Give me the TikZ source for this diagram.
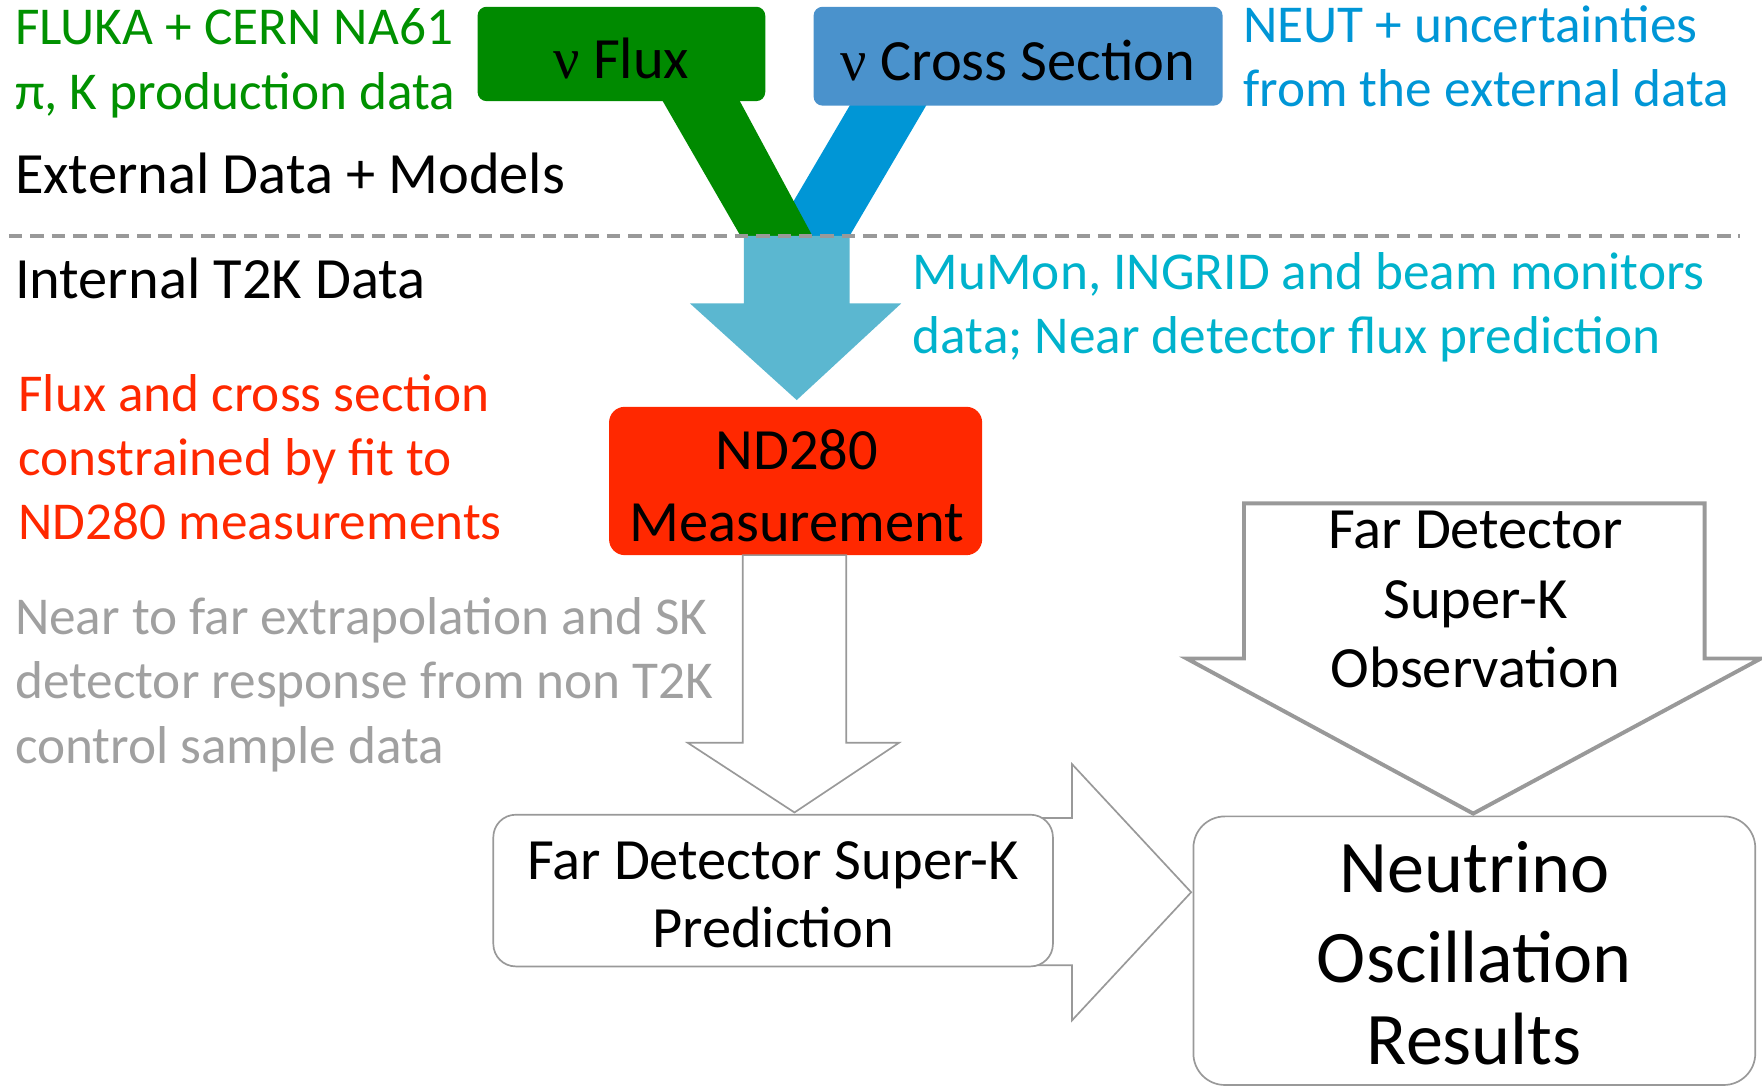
\documentclass[tikz,border=0pt]{standalone}
\usepackage{fontspec}
\setmainfont{Carlito}
\newfontfamily\nufont{Liberation Serif}
\definecolor{fgreen}{RGB}{0,138,0}
\definecolor{tgreen}{RGB}{0,145,0}
\definecolor{xblue}{RGB}{74,146,204}
\definecolor{bandblue}{RGB}{0,150,214}
\definecolor{neutblue}{RGB}{0,150,214}
\definecolor{arrowblue}{RGB}{91,183,208}
\definecolor{mucyan}{RGB}{0,178,204}
\definecolor{ndred}{RGB}{255,40,0}
\definecolor{ggray}{RGB}{160,160,160}
\definecolor{lgray}{RGB}{153,153,153}
\begin{document}
\begin{tikzpicture}[x=0.5pt,y=-0.5pt,
  ann/.style={inner sep=0pt,anchor=base west,font=\fontsize{23.7}{28}\selectfont},
  hd/.style={inner sep=0pt,anchor=base west,font=\fontsize{26}{31}\selectfont},
  bt/.style={inner sep=0pt,anchor=base,font=\fontsize{26}{31}\selectfont},
  bigt/.style={inner sep=0pt,anchor=base,font=\fontsize{33}{40}\selectfont},
  solidbox/.style={inner sep=0pt,draw=none},
  outline/.style={draw=lgray,line width=0.75pt,fill=white,line join=miter},
]
\useasboundingbox (0,0) rectangle (1568,966);
\clip (0,0) rectangle (1568,966);

% bands from the top boxes
\fill[bandblue] (762,84) -- (830,84) -- (756,210) -- (688,210) -- cycle;
\fill[fgreen] (584,80) -- (653,80) -- (723,210) -- (659,210) -- cycle;

% top boxes
\node[solidbox,fill=fgreen,rounded corners=4pt,minimum width=128pt,minimum height=42pt] (flux) at (553,48) {};
\node[bt] (fluxt) at (553,70) {{\nufont ν} Flux};
\node[solidbox,fill=xblue,rounded corners=4pt,minimum width=182pt,minimum height=44pt] (xsec) at (906,50) {};
\node[bt] (xsect) at (906,72) {{\nufont ν} Cross Section};

% light blue arrow
\fill[arrowblue] (662,210) -- (756,210) -- (756,270) -- (802,270) -- (709,356) -- (614,270) -- (662,270) -- cycle;

% dashed separator
\draw[lgray,line width=1.8pt,dash pattern=on 6pt off 3.5pt] (8,210) coordinate (sepL) -- (1548,210) coordinate (sepR);

% annotations
\node[ann,text=tgreen] (fluka1) at (13,40) {FLUKA + CERN NA61};
\node[ann,text=tgreen] (fluka2) at (13,97) {π, K production data};
\node[ann,text=neutblue] (neut1) at (1106,38) {NEUT + uncertainties};
\node[ann,text=neutblue] (neut2) at (1106,95) {from the external data};
\node[hd] (ext) at (13,172) {External Data + Models};
\node[hd] (int) at (13,266) {Internal T2K Data};
\node[ann,text=mucyan] (mu1) at (812,258) {MuMon, INGRID and beam monitors};
\node[ann,text=mucyan] (mu2) at (812,315) {data; Near detector flux prediction};
\node[ann,text=ndred] (red1) at (16,366) {Flux and cross section};
\node[ann,text=ndred] (red2) at (16,423) {constrained by fit to};
\node[ann,text=ndred] (red3) at (16,480) {ND280 measurements};
\node[ann,text=ggray] (gr1) at (13,565) {Near to far extrapolation and SK};
\node[ann,text=ggray] (gr2) at (13,622) {detector response from non T2K};
\node[ann,text=ggray] (gr3) at (13,679) {control sample data};

% ND280 box
\node[solidbox,fill=ndred,rounded corners=7pt,minimum width=166pt,minimum height=66pt] (nd) at (708,428) {};
\node[bt] (ndt1) at (709,418) {ND280};
\node[bt] (ndt2) at (709,482) {Measurement};

% outline arrow ND280 -> prediction
\draw[outline] (661,494) -- (753,494) -- (753,661) -- (800,661) -- (707,723) -- (612,661) -- (661,661) -- cycle;

% outline arrow prediction -> results
\draw[outline] (900,728) -- (954,728) -- (954,680) -- (1060,794) -- (954,908) -- (954,859) -- (900,859) -- cycle;

% prediction box
\node[outline,rounded corners=10pt,minimum width=249pt,minimum height=67.5pt,inner sep=0pt] (pred) at (688,792.5) {};
\node[bt] (predt1) at (688,783) {Far Detector Super-K};
\node[bt] (predt2) at (688,843) {Prediction};

% observation arrow
\draw[outline,line width=1.75pt] (1107,448) -- (1517,448) -- (1517,586) -- (1567,586) -- (1311,724) -- (1056,586) -- (1107,586) -- cycle;
\node[bt] (obs1) at (1313,488) {Far Detector};
\node[bt] (obs2) at (1313,550) {Super-K};
\node[bt] (obs3) at (1313,612) {Observation};

% results box
\node[outline,rounded corners=14pt,minimum width=250pt,minimum height=119.5pt,inner sep=0pt] (res) at (1312,846) {};
\node[bigt] (rest1) at (1312,794) {Neutrino};
\node[bigt] (rest2) at (1312,874) {Oscillation};
\node[bigt] (rest3) at (1312,947) {Results};
\end{tikzpicture}
\end{document}
